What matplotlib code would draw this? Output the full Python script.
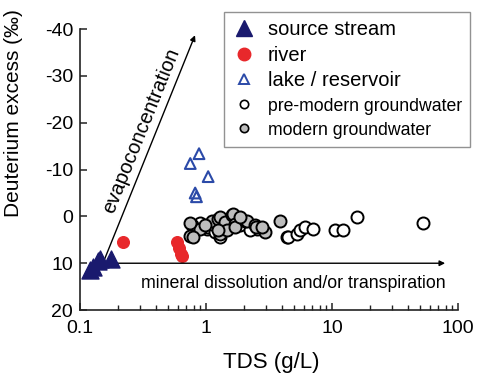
import matplotlib
matplotlib.use("Agg")
import matplotlib.pyplot as plt
from matplotlib.lines import Line2D

plt.rcParams["font.family"] = ["Liberation Sans", "DejaVu Sans"]
plt.rcParams["axes.unicode_minus"] = False

# ── Data ───────────────────────────────────────────────────────────────────────

src_tds = [0.12, 0.127, 0.14, 0.145, 0.175]
src_dex = [11.5, 10.8, 9.6, 9.2, 9.0]

river_tds = [0.22, 0.59, 0.61, 0.63, 0.65]
river_dex = [5.5, 5.5, 6.8, 8.0, 8.5]

lake_tds = [0.75, 0.88, 1.04, 0.82, 0.84]
lake_dex = [-11.3, -13.4, -8.5, -5.0, -4.2]

pre_tds = [1.01, 1.04, 1.18, 1.37, 1.29, 1.86, 2.52, 2.23, 0.90, 1.12,
           4.37, 4.5, 5.25, 5.57, 6.11, 7.11, 10.6, 12.3, 15.7, 53.0]
pre_dex = [2.6, 2.3, 3.4, 2.3, 4.4, 1.9, 2.6, 3.0, 1.3, 1.7,
           4.4, 4.4, 3.7, 3.0, 2.3, 2.6, 2.8, 3.0, 0.1, 1.4]

mod_tds = [0.77, 0.75, 0.90, 1.11, 1.25, 1.29, 1.41, 1.60, 1.65, 1.70,
           2.04, 2.10, 2.45, 2.50, 2.94, 2.80, 3.87, 0.79, 1.29, 1.46,
           1.70, 1.25, 0.98, 1.86, 0.75]
mod_dex = [1.9, 4.1, 2.6, 0.9, 0.5, 0.1, 1.2, -0.2, -0.6, 1.6,
           0.9, 0.9, 1.9, 2.3, 3.4, 2.3, 0.9, 4.4, 3.7, 3.0,
           2.3, 3.0, 1.9, 0.2, 1.3]

# arrows (start, end) in data units
evap_start = (0.152, 10.0)
evap_end = (0.818, -38.7)
dissol_start = (0.152, 10.0)
dissol_end = (79.0, 10.0)

# ── Plot ───────────────────────────────────────────────────────────────────────

fig = plt.figure(figsize=(4.8, 3.74), dpi=100)
ax = fig.add_axes([0.1667, 0.171, 0.7875, 0.751])

navy = "#1a1a6e"
red = "#e8282b"
blue = "#2b4aa8"

ax.scatter(pre_tds, pre_dex, s=75, facecolor="white", edgecolor="black",
           linewidth=1.4, zorder=3)
ax.scatter(mod_tds, mod_dex, s=75, facecolor="#bdbdbd", edgecolor="black",
           linewidth=1.4, zorder=4)
ax.scatter(lake_tds, lake_dex, s=60, marker="^", facecolor="none",
           edgecolor=blue, linewidth=1.5, zorder=3)
ax.scatter(river_tds, river_dex, s=70, color=red, zorder=3)
ax.scatter(src_tds, src_dex, s=150, marker="^", color=navy, zorder=5)

ax.annotate("", xy=evap_end, xytext=evap_start,
            arrowprops=dict(arrowstyle="-|>", color="black", lw=1.0,
                            mutation_scale=8, shrinkA=0, shrinkB=0))
ax.annotate("", xy=dissol_end, xytext=dissol_start,
            arrowprops=dict(arrowstyle="-|>", color="black", lw=1.0,
                            mutation_scale=8, shrinkA=0, shrinkB=0))

ax.text(0.305, -18.4, "evapoconcentration", rotation=68, rotation_mode="anchor",
        ha="center", va="center", fontsize=14.5)
ax.text(4.95, 14.4, "mineral dissolution and/or transpiration",
        ha="center", va="center", fontsize=12.8)

ax.set_xscale("log")
ax.set_xlim(0.1, 100)
ax.set_ylim(20, -40)
ax.set_yticks([-40, -30, -20, -10, 0, 10, 20])
ax.set_xticks([0.1, 1, 10, 100])
ax.set_xticklabels(["0.1", "1", "10", "100"])

for s in ["top", "right"]:
    ax.spines[s].set_visible(False)
for s in ["left", "bottom"]:
    ax.spines[s].set_linewidth(1.2)
    ax.spines[s].set_color("#222222")

ax.tick_params(which="both", direction="in", labelsize=14, color="#222222")
ax.tick_params(which="major", length=5, width=1.1)
ax.tick_params(which="minor", length=3.5, width=1.0)
ax.tick_params(axis="y", pad=5)
ax.tick_params(axis="x", pad=7)

ax.set_xlabel("TDS (g/L)", fontsize=16)
ax.set_ylabel("Deuterium excess (\u2030)", fontsize=15)
ax.xaxis.set_label_coords(0.505, -0.148)
ax.yaxis.set_label_coords(-0.15, 0.70)

handles = [
    Line2D([], [], marker="^", ls="", color=navy, markersize=11),
    Line2D([], [], marker="o", ls="", color=red, markersize=9),
    Line2D([], [], marker="^", ls="", markerfacecolor="none",
           markeredgecolor=blue, markeredgewidth=1.4, markersize=7),
    Line2D([], [], marker="o", ls="", markerfacecolor="white",
           markeredgecolor="black", markeredgewidth=1.2, markersize=6),
    Line2D([], [], marker="o", ls="", markerfacecolor="#bdbdbd",
           markeredgecolor="black", markeredgewidth=1.2, markersize=6),
]
labels = ["source stream", "river", "lake / reservoir",
          "pre-modern groundwater", "modern groundwater"]
leg = ax.legend(handles, labels, loc="upper right",
                bbox_to_anchor=(1.032, 1.06), borderaxespad=0,
                fontsize=14.5, frameon=True, fancybox=False,
                handletextpad=0.6, labelspacing=0.32, handlelength=1.2,
                borderpad=0.4)
leg.get_frame().set_edgecolor("#777777")
leg.get_frame().set_linewidth(1.0)
for t in leg.get_texts()[3:]:
    t.set_fontsize(12.7)

fig.savefig("out.png", dpi=100)
